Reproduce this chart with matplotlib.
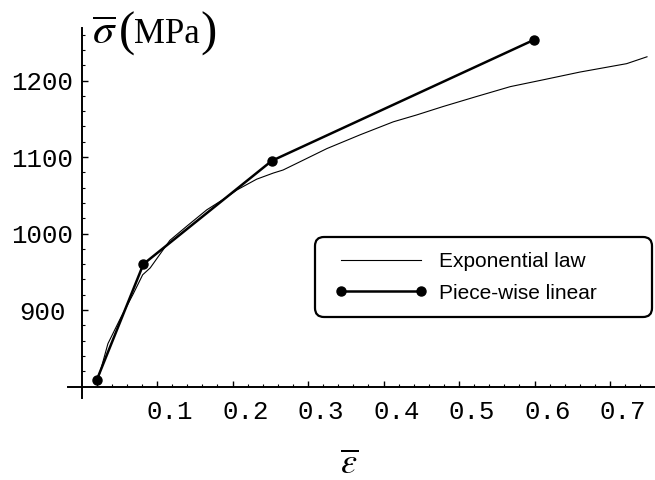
import matplotlib
matplotlib.use("Agg")
import matplotlib.pyplot as plt
from matplotlib.patches import FancyBboxPatch
from matplotlib.transforms import IdentityTransform, ScaledTranslation
from matplotlib.ticker import FixedLocator

# ---- data ----
exp_strain = [0.021, 0.035, 0.052, 0.068, 0.081, 0.091, 0.117, 0.140, 0.166, 0.190,
              0.206, 0.232, 0.254, 0.267, 0.294, 0.325, 0.369, 0.413, 0.444, 0.479,
              0.523, 0.568, 0.612, 0.660, 0.722, 0.749]
exp_stress = [806, 856, 890, 920, 946, 955, 991, 1010, 1031, 1046,
              1057, 1071, 1079, 1083, 1096, 1111, 1129, 1146, 1155, 1166,
              1179, 1192, 1201, 1211, 1222, 1231]

pw_strain = [0.020, 0.082, 0.252, 0.599]
pw_stress = [808, 960, 1095, 1253]

x_major = [0.1, 0.2, 0.3, 0.4, 0.5, 0.6, 0.7]
x_labels = ["0.1", "0.2", "0.3", "0.4", "0.5", "0.6", "0.7"]
y_major = [900, 1000, 1100, 1200]
y_labels = ["900", "1000", "1100", "1200"]

W, H = 655, 480
plt.rcParams["mathtext.fontset"] = "stix"
fig = plt.figure(figsize=(W / 100, H / 100), dpi=100)
ax = fig.add_axes([0, 0, 1, 1])
ax.set_facecolor("none")

# pixel mapping: x_px = 81.5 + 755*eps ; y_px(top) = 386.5 - 0.765*(sig-800)
ax.set_xlim(-81.5 / 755, (W - 81.5) / 755)
ax.set_ylim(800 - (H - 386.5) / 0.765, 800 + 386.5 / 0.765)

ax.plot(exp_strain, exp_stress, color="black", lw=0.8, label="Exponential law", zorder=3)
ax.plot(pw_strain, pw_stress, color="black", lw=1.8, marker="o", markersize=6.5,
        label="Piece-wise linear", zorder=4)

for s in ["top", "right"]:
    ax.spines[s].set_visible(False)
ax.spines["left"].set_position(("data", 0.0))
ax.spines["bottom"].set_position(("data", 800))
ax.spines["left"].set_linewidth(1.4)
ax.spines["bottom"].set_linewidth(1.4)
ax.spines["left"].set_bounds(785, 1268)
ax.spines["bottom"].set_bounds(-0.018, 0.76)

ax.set_xticks(x_major, x_labels)
ax.set_yticks(y_major, y_labels)
x_minor = [round(0.02 * i, 2) for i in range(1, 38) if i % 5 != 0]
y_minor = [800 + 20 * i for i in range(1, 24) if i % 5 != 0]
ax.xaxis.set_minor_locator(FixedLocator(x_minor))
ax.yaxis.set_minor_locator(FixedLocator(y_minor))

ax.tick_params(axis="x", which="major", direction="in", length=4, width=1.0, pad=10)
ax.tick_params(axis="x", which="minor", direction="in", length=2.5, width=0.8)
ax.tick_params(axis="y", which="major", direction="in", length=4.5, width=1.0, pad=28)
ax.tick_params(axis="y", which="minor", direction="in", length=2.5, width=0.8)
for lab in ax.get_xticklabels():
    lab.set_fontfamily("Liberation Mono")
    lab.set_fontsize(18.5)
    lab.set_transform(lab.get_transform() + ScaledTranslation(13 / 100, 0, fig.dpi_scale_trans))
for lab in ax.get_yticklabels():
    lab.set_fontfamily("Liberation Mono")
    lab.set_fontsize(18.5)
    lab.set_horizontalalignment("center")

# axis labels
fig.text(92 / W, 1 - 44 / H, r"$\overline{\sigma}$", fontsize=31, ha="left", va="baseline")
fig.text(119 / W, 1 - 46 / H, "(", fontsize=35, family="Liberation Serif", ha="left", va="baseline")
fig.text(134 / W, 1 - 43 / H, "MPa", fontsize=25, family="Liberation Serif", ha="left", va="baseline")
fig.text(200 / W, 1 - 46 / H, ")", fontsize=35, family="Liberation Serif", ha="left", va="baseline")
fig.text(349 / W, 1 - 464 / H, r"$\overline{\varepsilon}$", fontsize=26, ha="center", va="center")

# legend box
box = FancyBboxPatch((315, H - 317), 337, 80, boxstyle="round,pad=0,rounding_size=9",
                     transform=IdentityTransform(), fill=False, lw=1.6, ec="black")
fig.add_artist(box)
leg = ax.legend(loc="center left", bbox_to_anchor=(335 / W, 1 - 277.5 / H),
                bbox_transform=fig.transFigure, frameon=False, numpoints=2,
                borderpad=0, borderaxespad=0, handlelength=4.45, handletextpad=0.56,
                labelspacing=0.58, prop=dict(family="Liberation Sans", size=15))

fig.savefig("out.png", dpi=100)
